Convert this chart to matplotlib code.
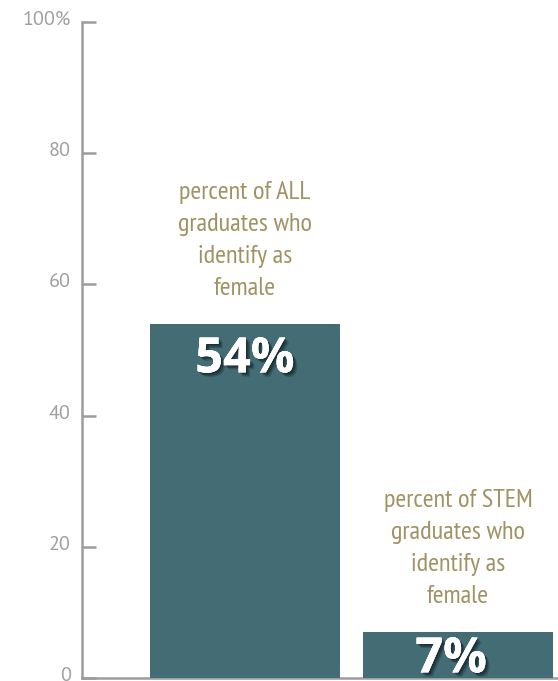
import matplotlib
matplotlib.use("Agg")
import matplotlib.pyplot as plt
import matplotlib.patheffects as pe
from matplotlib.transforms import ScaledTranslation

# data
groups = ["ALL", "STEM"]
values = [54, 7]
notes = ["percent of ALL\ngraduates who\nidentify as\nfemale",
         "percent of STEM\ngraduates who\nidentify as\nfemale"]
yticks = [0, 20, 40, 60, 80, 100]
ytick_labels = ["0", "20", "40", "60", "80", "100%"]

bar_color = "#436c74"
note_color = "#a09262"
grey = "#9c9c9e"

# offsets (points) for the big value labels
label_dx = [0, -5]
label_dy = [-35, -29]

fig = plt.figure(figsize=(5.58, 6.81), dpi=100)
ax = fig.add_axes([82 / 558, 3 / 681, 476 / 558, 656 / 681])

x = list(range(len(values)))
ax.bar(x, values, width=0.893, color=bar_color, zorder=3)
ax.set_xlim(-0.765, 1.469)
ax.set_ylim(0, 100)

# axis styling
for side in ["top", "right"]:
    ax.spines[side].set_visible(False)
for side in ["left", "bottom"]:
    ax.spines[side].set_color(grey)
    ax.spines[side].set_linewidth(1.8)
ax.set_xticks([])
ax.set_yticks(yticks)
ax.set_yticklabels(ytick_labels, fontsize=14.5, color="#a0a0a2", family="PT Sans")
ax.tick_params(axis="y", direction="in", length=10, width=1.8, color=grey, pad=8)
lift = ScaledTranslation(0, 4 / 100, fig.dpi_scale_trans)
for lbl in ax.get_yticklabels():
    lbl.set_transform(lbl.get_transform() + lift)

shadow = [pe.withSimplePatchShadow(offset=(3, -3), shadow_rgbFace="#0b1c20", alpha=0.25),
          pe.withSimplePatchShadow(offset=(2, -2), shadow_rgbFace="#0b1c20", alpha=0.4),
          pe.withSimplePatchShadow(offset=(1, -1), shadow_rgbFace="#0b1c20", alpha=0.4),
          pe.Normal()]

for xi, v, note, dx, dy in zip(x, values, notes, label_dx, label_dy):
    ax.annotate(note, (xi, v), xytext=(0, 17), textcoords="offset points",
                ha="center", va="bottom", fontsize=19, color=note_color,
                family=["PT Sans Narrow", "DejaVu Sans"], linespacing=1.5)
    ax.annotate(f"{v}%", (xi, v), xytext=(dx, dy), textcoords="offset points",
                ha="center", va="baseline", fontsize=35, fontweight="bold",
                color="white", family="Open Sans", path_effects=shadow,
                zorder=5, annotation_clip=False)

fig.savefig("out.png", dpi=100)
